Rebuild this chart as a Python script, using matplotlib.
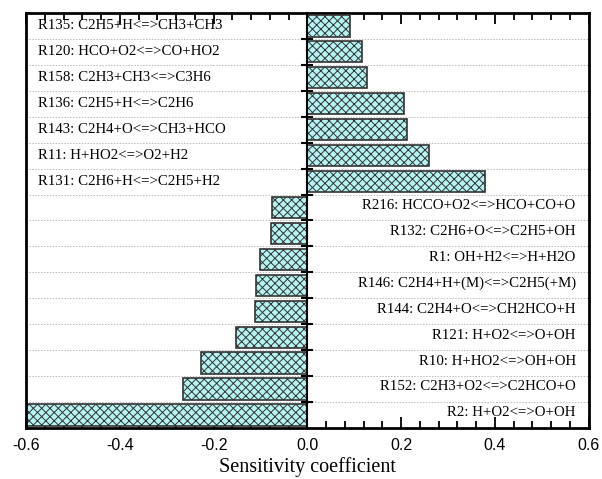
import numpy as np
import matplotlib
matplotlib.use("Agg")
import matplotlib.pyplot as plt
from matplotlib.ticker import MultipleLocator

# reactions, top to bottom
reactions = [
    "R135: C2H5+H<=>CH3+CH3",
    "R120: HCO+O2<=>CO+HO2",
    "R158: C2H3+CH3<=>C3H6",
    "R136: C2H5+H<=>C2H6",
    "R143: C2H4+O<=>CH3+HCO",
    "R11: H+HO2<=>O2+H2",
    "R131: C2H6+H<=>C2H5+H2",
    "R216: HCCO+O2<=>HCO+CO+O",
    "R132: C2H6+O<=>C2H5+OH",
    "R1: OH+H2<=>H+H2O",
    "R146: C2H4+H+(M)<=>C2H5(+M)",
    "R144: C2H4+O<=>CH2HCO+H",
    "R121: H+O2<=>O+OH",
    "R10: H+HO2<=>OH+OH",
    "R152: C2H3+O2<=>C2HCO+O",
    "R2: H+O2<=>O+OH",
]
sens = [0.091, 0.116, 0.127, 0.205, 0.212, 0.260, 0.379,
        -0.075, -0.077, -0.101, -0.109, -0.111, -0.152, -0.226, -0.265, -0.60]

plt.rcParams['hatch.linewidth'] = 0.7
plt.rcParams['hatch.color'] = '#333333'

fig = plt.figure(figsize=(6.02, 4.79), dpi=100)
ax = fig.add_axes([0.0432, 0.1065, 0.9348, 0.8665])

y = np.arange(len(reactions))
ax.barh(y, sens, height=0.82, color='#b4f4f2', edgecolor='#333333',
        linewidth=1.2, hatch='xxxx', zorder=3)

ax.set_xlim(-0.6, 0.6)
ax.set_ylim(len(reactions) - 0.5, -0.5)

# labels: left side for positive bars, right side for negative
for yi, (name, v) in enumerate(zip(reactions, sens)):
    if v > 0:
        ax.text(-0.575, yi, name, ha='left', va='center',
                family='Liberation Serif', fontsize=10.7, color='black')
    else:
        ax.text(0.572, yi - 0.08, name, ha='right', va='center',
                family='Liberation Serif', fontsize=10.7, color='black')

# dotted separators between reactions
for b in np.arange(0.5, len(reactions) - 0.5, 1.0):
    ax.axhline(b, color='#bbbbbb', ls=(0, (1.5, 1.5)), lw=0.7, zorder=1)

# zero line with ticks at separators
ax.spines['left'].set_position(('data', 0))
ax.spines['left'].set_linewidth(1.5)
ax.spines['left'].set_zorder(4)
ax.set_yticks(np.arange(0.5, len(reactions) - 0.5, 1.0))
ax.set_yticklabels([])
ax.tick_params(axis='y', direction='inout', length=8, width=1.5)
ax.plot([0, 0], [0, 1], transform=ax.transAxes, color='black', lw=2,
        clip_on=False, zorder=5)

for s in ['top', 'bottom', 'right']:
    ax.spines[s].set_linewidth(2)

ax.xaxis.set_major_locator(MultipleLocator(0.2))
ax.xaxis.set_minor_locator(MultipleLocator(0.04))
ax.tick_params(axis='x', which='both', direction='in', top=True, width=1.3)
ax.tick_params(axis='x', which='major', length=8, labelsize=11.5, pad=7)
ax.tick_params(axis='x', which='minor', length=5)
ax.set_xticks([-0.6, -0.4, -0.2, 0.0, 0.2, 0.4, 0.6])
ax.set_xticklabels(['-0.6', '-0.4', '-0.2', '0.0', '0.2', '0.4', '0.6'],
                   family='Liberation Sans')
ax.set_xlabel('Sensitivity coefficient', family='Liberation Serif',
              fontsize=14.5, labelpad=3)

fig.savefig('out.png', dpi=100)
